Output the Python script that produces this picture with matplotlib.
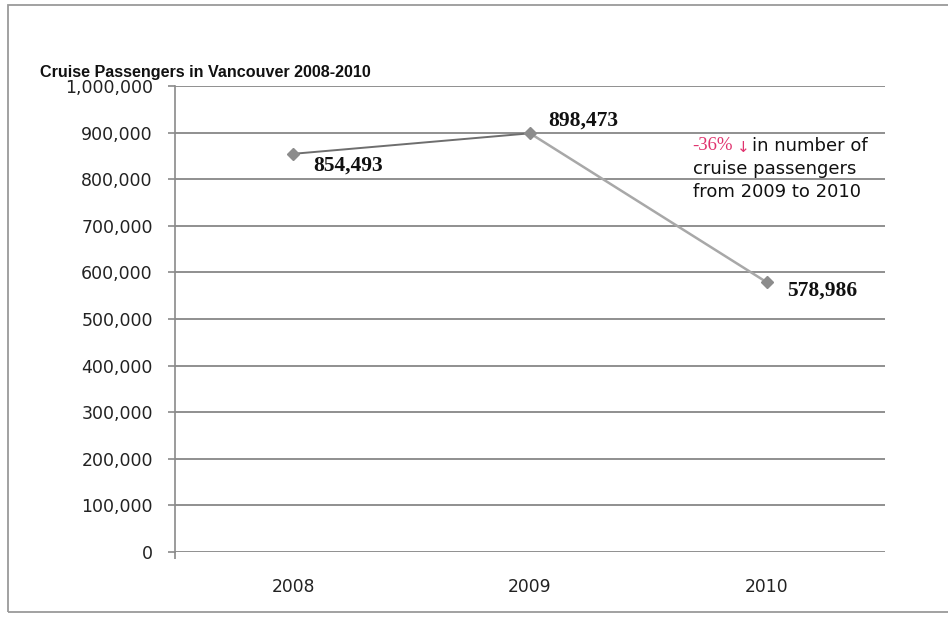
import matplotlib
matplotlib.use("Agg")
import matplotlib.pyplot as plt
from matplotlib.patches import Rectangle
from matplotlib.ticker import FuncFormatter, FixedLocator

# Data
years = ["2008", "2009", "2010"]
passengers = [854493, 898473, 578986]
y_ticks = [0, 100000, 200000, 300000, 400000, 500000, 600000, 700000, 800000, 900000, 1000000]
title = "Cruise Passengers in Vancouver 2008-2010"
change_pct = "-36%"
note_lines = ["in number of", "cruise passengers", "from 2009 to 2010"]

W, H = 948, 618
fig = plt.figure(figsize=(W / 100, H / 100), dpi=100)
fig.patch.set_facecolor("white")

def fx(px):
    return px / W

def fy(py):
    return 1 - py / H

# outer frame
fig.add_artist(Rectangle((fx(8), fy(612)), fx(960) - fx(8), fy(5) - fy(612),
                         transform=fig.transFigure, fill=False,
                         edgecolor="#9a9a9a", linewidth=1.3))

left, right, top, bottom = 175, 885, 86, 552
ax = fig.add_axes([fx(left), fy(bottom), fx(right) - fx(left), fy(top) - fy(bottom)])
ax.set_facecolor("white")

x = list(range(len(years)))
ax.set_xlim(-0.5, len(years) - 0.5)
ax.set_ylim(0, 1000000)

# horizontal gridlines
for v in y_ticks:
    ax.axhline(v, color="#7d7d7d", linewidth=1.2, zorder=1)

for s in ["top", "right", "bottom"]:
    ax.spines[s].set_visible(False)
ax.spines["left"].set_color("#8a8a8a")
ax.spines["left"].set_linewidth(1.2)

ax.set_yticks(y_ticks)
ax.yaxis.set_major_formatter(FuncFormatter(lambda v, p: f"{int(v):,}"))
ax.tick_params(axis="y", length=5, width=1.2, color="#8a8a8a", pad=11,
               labelsize=12.5, labelcolor="#222222")
ax.set_xticks(x)
ax.set_xticklabels(years)
ax.tick_params(axis="x", length=0, pad=19, labelsize=12.3, labelcolor="#222222")
ax.xaxis.set_minor_locator(FixedLocator([-0.5]))
ax.tick_params(axis="x", which="minor", length=5, width=1.2, color="#8a8a8a")
for lab in ax.get_xticklabels() + ax.get_yticklabels():
    lab.set_family("DejaVu Sans")

# series: first segment darker, second segment lighter
ax.plot(x[:2], passengers[:2], color="#6e6e6e", linewidth=1.4, zorder=3)
ax.plot(x[1:], passengers[1:], color="#a8a8a8", linewidth=1.8, zorder=3)
ax.plot(x, passengers, linestyle="none", marker="D", markersize=6,
        color="#8c8c8c", zorder=4)

# value labels
offsets = [(14.4, -8.3), (13.0, 9.4), (14.4, -5.8)]
for xi, v, off in zip(x, passengers, offsets):
    ax.annotate(f"{v:,}", (xi, v), xytext=off, textcoords="offset points",
                ha="left", va="center", fontsize=15.5, fontweight="bold",
                family="Liberation Serif", color="#111111", zorder=5)

# title
fig.text(fx(40), fy(72), title, ha="left", va="center", fontsize=11.6,
         fontweight="bold", family="Liberation Sans", color="#111111")

# note on the 2009-2010 change
fig.text(fx(692), fy(145), change_pct, ha="left", va="center", fontsize=13.5,
         family="Liberation Serif", color="#e0336e")
fig.text(fx(737), fy(147), "\u2193", ha="left", va="center", fontsize=11,
         family="DejaVu Sans", color="#e0336e")
fig.text(fx(752), fy(146), note_lines[0], ha="left", va="center", fontsize=13,
         family="DejaVu Sans", color="#111111")
fig.text(fx(693), fy(169), note_lines[1], ha="left", va="center", fontsize=13,
         family="DejaVu Sans", color="#111111")
fig.text(fx(693), fy(192), note_lines[2], ha="left", va="center", fontsize=13,
         family="DejaVu Sans", color="#111111")

fig.savefig("out.png", dpi=100, facecolor="white")
